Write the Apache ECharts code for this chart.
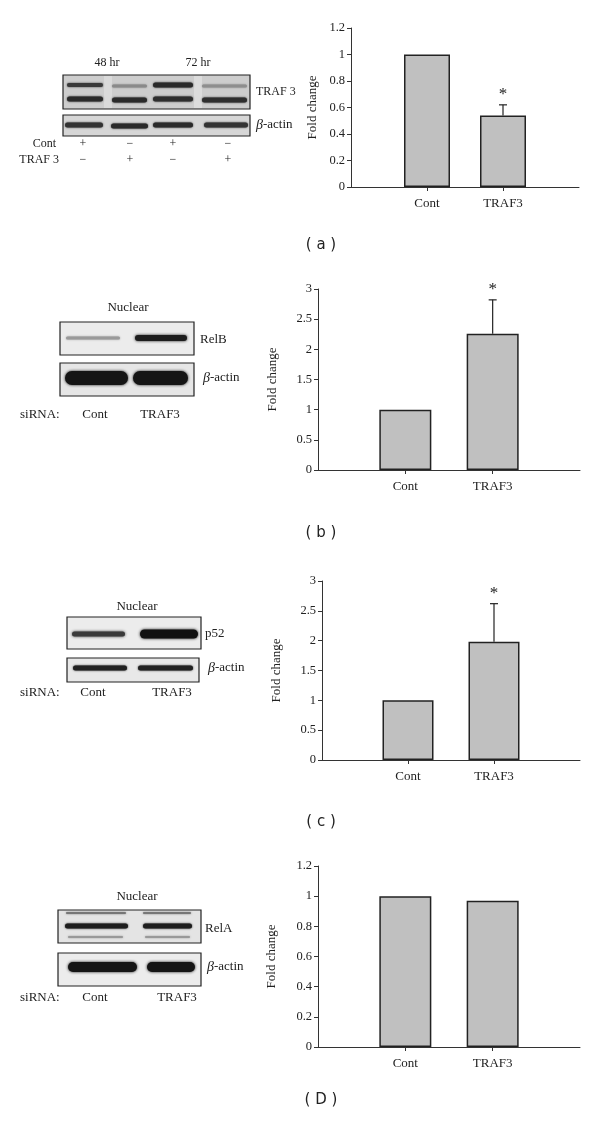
<!DOCTYPE html>
<html>
<head>
  <meta charset="utf-8">
</head>
<body style="margin: 0; background: #fff">
  <div id="container" style="width: 600px; height: 1124px"></div>
  <script src="https://cdn.jsdelivr.net/npm/echarts@6.0.0/dist/echarts.min.js"></script>
  <script>
    // categories (empty ends give the Excel-style spacing)
    var cats = ['', 'Cont', 'TRAF3', ''];

    // fold change per panel
    var valsA = [1, 0.54];
    var valsB = [1, 2.26];
    var valsC = [1, 1.98];
    var valsD = [1, 0.97];

    // upper ends of error bars (TRAF3 only), null = none
    var errA = 0.62;
    var errB = 2.82;
    var errC = 2.62;
    var errD = null;

    // y axis max / step per panel
    var yMaxA = 1.2, yStepA = 0.2;
    var yMaxB = 3, yStepB = 0.5;
    var yMaxC = 3, yStepC = 0.5;
    var yMaxD = 1.2, yStepD = 0.2;

    var panelLabels = ['( a )', '( b )', '( c )', '( D )'];

    var SERIF = '"Liberation Serif", "DejaVu Serif", serif';
    var dom = document.getElementById('container');
    var myChart = echarts.init(dom, null, { renderer: 'canvas' });

    var grids = [
      { left: 351, right: 21, top: 28, height: 159, barW: 46, gap: 32 },
      { left: 318, right: 20, top: 289, height: 181, barW: 52, gap: 39 },
      { left: 322, right: 20, top: 581, height: 179, barW: 51, gap: 39 },
      { left: 318, right: 20, top: 866, height: 181, barW: 52, gap: 40 }
    ];
    var allVals = [valsA, valsB, valsC, valsD];
    var allErr = [errA, errB, errC, errD];
    var yMax = [yMaxA, yMaxB, yMaxC, yMaxD];
    var yStep = [yStepA, yStepB, yStepC, yStepD];

    var xAxes = [], yAxes = [], series = [];
    grids.forEach(function (g, i) {
      xAxes.push({
        type: 'category', gridIndex: i, data: cats, boundaryGap: false,
        axisLine: { lineStyle: { color: '#333', width: 1 } },
        axisTick: { length: 4, interval: function (idx) { return idx === 1 || idx === 2; }, lineStyle: { color: '#333' } },
        axisLabel: { interval: 0, color: '#222', fontFamily: SERIF, fontSize: 13, margin: 10 },
        splitLine: { show: false }
      });
      yAxes.push({
        type: 'value', gridIndex: i, min: 0, max: yMax[i], interval: yStep[i],
        name: 'Fold change', nameLocation: 'middle', nameGap: g.gap,
        nameTextStyle: { color: '#222', fontFamily: SERIF, fontSize: 13 },
        axisLine: { show: true, lineStyle: { color: '#333', width: 1 } },
        axisTick: { show: true, length: 4, lineStyle: { color: '#333' } },
        axisLabel: { color: '#222', fontFamily: SERIF, fontSize: 12.5, margin: 6 },
        splitLine: { show: false }
      });
      var v = allVals[i];
      series.push({
        type: 'bar', xAxisIndex: i, yAxisIndex: i, barWidth: g.barW,
        data: ['-', v[0], v[1], '-'],
        itemStyle: { color: '#c0c0c0', borderColor: '#222', borderWidth: 1.5 },
        z: 2, silent: true
      });
      if (allErr[i] != null) {
        series.push({
          type: 'custom', xAxisIndex: i, yAxisIndex: i, z: 3, silent: true,
          data: [[2, v[1], allErr[i]]],
          renderItem: function (params, api) {
            var lo = api.coord([api.value(0), api.value(1)]);
            var hi = api.coord([api.value(0), api.value(2)]);
            return {
              type: 'group',
              children: [
                { type: 'line', shape: { x1: lo[0], y1: lo[1], x2: hi[0], y2: hi[1] }, style: { stroke: '#222', lineWidth: 1.2 } },
                { type: 'line', shape: { x1: hi[0] - 4, y1: hi[1], x2: hi[0] + 4, y2: hi[1] }, style: { stroke: '#222', lineWidth: 1.2 } },
                { type: 'text', x: hi[0], y: hi[1] - 2, style: { text: '*', fill: '#222', font: '17px ' + SERIF, align: 'center', verticalAlign: 'bottom' } }
              ]
            };
          }
        });
      }
    });

    // --- western blot drawings and labels ---
    var gfx = [];
    function box(x, y, w, h, fill) {
      gfx.push({ type: 'rect', shape: { x: x, y: y, width: w, height: h }, style: { fill: fill, stroke: '#222', lineWidth: 1.2 }, z: 1 });
    }
    function band(x, y, w, h, color, blur) {
      gfx.push({ type: 'rect', shape: { x: x, y: y - h / 2, width: w, height: h, r: h / 2 }, style: { fill: color, shadowBlur: blur || 2, shadowColor: color }, z: 2 });
    }
    function txt(x, y, s, align, size) {
      gfx.push({ type: 'text', x: x, y: y, style: { text: s, fill: '#222', font: (size || 13) + 'px ' + SERIF, align: align || 'left', verticalAlign: 'middle' }, z: 3 });
    }
    function actin(x, y) {
      gfx.push({ type: 'text', x: x, y: y, style: { text: '{b|β}-actin', fill: '#222', font: '13px ' + SERIF, align: 'left', verticalAlign: 'middle', rich: { b: { fontStyle: 'italic', fontSize: 14, fontFamily: SERIF } } }, z: 3 });
    }

    // (a)
    txt(107, 63, '48 hr', 'center', 12);
    txt(198, 63, '72 hr', 'center', 12);
    box(63, 75, 187, 34, '#cdcdcd');
    gfx.push({ type: 'rect', shape: { x: 104, y: 76, width: 8, height: 32 }, style: { fill: '#dadada' }, z: 1 });
    gfx.push({ type: 'rect', shape: { x: 194, y: 76, width: 8, height: 32 }, style: { fill: '#dcdcdc' }, z: 1 });
    band(67, 85, 36, 4, '#3a3a3a');
    band(112, 86, 35, 3, '#8a8a8a');
    band(153, 85, 40, 5, '#2a2a2a');
    band(202, 86, 45, 3, '#8e8e8e');
    band(67, 99, 36, 5, '#2a2a2a');
    band(112, 100, 35, 5, '#2a2a2a');
    band(153, 99, 40, 5, '#2e2e2e');
    band(202, 100, 45, 5, '#2e2e2e');
    txt(256, 92, 'TRAF 3', 'left', 12);
    box(63, 115, 187, 21, '#d6d6d6');
    band(65, 125, 38, 5, '#333');
    band(111, 126, 37, 5, '#2a2a2a');
    band(153, 125, 40, 5, '#2a2a2a');
    band(204, 125, 44, 5, '#333');
    actin(256, 125);
    txt(56, 144, 'Cont', 'right', 12);
    txt(59, 160, 'TRAF 3', 'right', 12);
    [[83, '+', '−'], [130, '−', '+'], [173, '+', '−'], [228, '−', '+']].forEach(function (c) {
      txt(c[0], 144, c[1], 'center', 12);
      txt(c[0], 160, c[2], 'center', 12);
    });

    // (b)
    txt(128, 308, 'Nuclear');
    gfx[gfx.length - 1].style.align = 'center';
    box(60, 322, 134, 33, '#ececec');
    band(66, 338, 54, 3, '#9a9a9a', 2);
    band(135, 338, 52, 6, '#1e1e1e', 3);
    txt(200, 340, 'RelB');
    box(60, 363, 134, 33, '#e6e6e6');
    band(65, 378, 63, 14, '#151515', 3);
    band(133, 378, 55, 14, '#151515', 3);
    actin(203, 378);
    txt(20, 415, 'siRNA:');
    txt(95, 415, 'Cont', 'center');
    txt(160, 415, 'TRAF3', 'center');

    // (c)
    txt(137, 607, 'Nuclear', 'center');
    box(67, 617, 134, 32, '#ececec');
    band(72, 634, 53, 5, '#3a3a3a', 3);
    band(140, 634, 58, 9, '#111', 3);
    txt(205, 634, 'p52');
    box(67, 658, 132, 24, '#e8e8e8');
    band(73, 668, 54, 5, '#222', 2);
    band(138, 668, 55, 5, '#222', 2);
    actin(208, 668);
    txt(20, 693, 'siRNA:');
    txt(93, 693, 'Cont', 'center');
    txt(172, 693, 'TRAF3', 'center');

    // (D)
    txt(137, 897, 'Nuclear', 'center');
    box(58, 910, 143, 33, '#e4e4e4');
    band(66, 913, 60, 2, '#777', 2);
    band(143, 913, 48, 2, '#777', 2);
    band(65, 926, 63, 5, '#1e1e1e', 2);
    band(143, 926, 49, 5, '#1e1e1e', 2);
    band(68, 937, 55, 2, '#999', 2);
    band(145, 937, 45, 2, '#999', 2);
    txt(205, 929, 'RelA');
    box(58, 953, 143, 33, '#ececec');
    band(68, 967, 69, 10, '#151515', 3);
    band(147, 967, 48, 10, '#151515', 3);
    actin(207, 967);
    txt(20, 998, 'siRNA:');
    txt(95, 998, 'Cont', 'center');
    txt(177, 998, 'TRAF3', 'center');

    // panel letters
    var labelY = [245, 533, 822, 1100];
    panelLabels.forEach(function (s, i) {
      gfx.push({ type: 'text', x: 321, y: labelY[i], style: { text: s, fill: '#222', font: '15px "DejaVu Sans", sans-serif', align: 'center', verticalAlign: 'middle' }, z: 3 });
    });

    var option = {
      animation: false,
      backgroundColor: '#fff',
      grid: grids.map(function (g) { return { left: g.left, right: g.right, top: g.top, height: g.height }; }),
      xAxis: xAxes,
      yAxis: yAxes,
      series: series,
      graphic: gfx
    };
    myChart.setOption(option);
    window.addEventListener('resize', myChart.resize);
  </script>
</body>
</html>
